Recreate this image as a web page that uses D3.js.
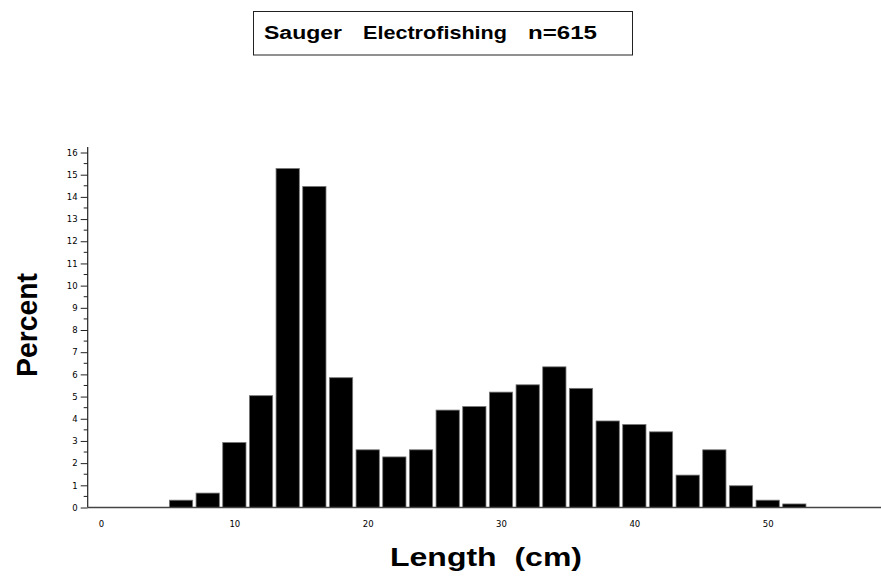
<!DOCTYPE html>
<html>
<head>
<meta charset="utf-8">
<script src="https://cdn.jsdelivr.net/npm/d3@7"></script>
<style>
  html, body { margin: 0; padding: 0; background: #fff; }
  svg { display: block; }
  text { white-space: pre; }
</style>
</head>
<body>
<svg id="chart" width="881" height="578"></svg>
<script>
// Data: length class midpoints (cm) and percent of fish
const lengthClasses = [6, 8, 10, 12, 14, 16, 18, 20, 22, 24, 26, 28, 30, 32, 34, 36, 38, 40, 42, 44, 46, 48, 50, 52];
const percentValues = [0.33, 0.65, 2.93, 5.04, 15.28, 14.47, 5.85, 2.60, 2.28, 2.60, 4.39, 4.55, 5.20, 5.53, 6.34, 5.37, 3.90, 3.74, 3.41, 1.46, 2.60, 0.98, 0.33, 0.16];
const xTickValues = [0, 10, 20, 30, 40, 50];
const yTickValues = [0, 1, 2, 3, 4, 5, 6, 7, 8, 9, 10, 11, 12, 13, 14, 15, 16];
const titleParts = ["Sauger", "Electrofishing", "n=615"];
const xTitle = "Length  (cm)";
const yTitle = "Percent";

const svg = d3.select("#chart");

const x = d3.scaleLinear().domain([-1, 58.5]).range([87.7, 881]);
const y = d3.scaleLinear().domain([0, 16]).range([507.5, 152.5]);

// Title box
svg.append("rect")
  .attr("x", 253.5).attr("y", 11.5).attr("width", 379).attr("height", 43.5)
  .attr("fill", "none").attr("stroke", "#222").attr("stroke-width", 1);

const titleFont = "Liberation Sans, Arial, sans-serif";
const titlePos = [[264, 78], [363, 144], [528, 69]];
titleParts.forEach((t, i) => {
  svg.append("text")
    .attr("x", titlePos[i][0]).attr("y", 38.5)
    .attr("font-family", titleFont).attr("font-weight", "bold")
    .attr("font-size", 18)
    .attr("textLength", titlePos[i][1]).attr("lengthAdjust", "spacingAndGlyphs")
    .text(t);
});

// Bars
svg.append("g").selectAll("rect")
  .data(lengthClasses.map((c, i) => ({c, v: percentValues[i]})))
  .join("rect")
  .attr("x", d => x(d.c - 1) + 1.7)
  .attr("width", d => x(d.c + 1) - x(d.c - 1) - 3.4)
  .attr("y", d => y(d.v))
  .attr("height", d => y(0) - y(d.v))
  .attr("fill", "#000")
  .attr("stroke", "#777")
  .attr("stroke-width", 0.8);

// Y axis
const yAxis = d3.axisLeft(y)
  .tickValues(yTickValues)
  .tickSize(7)
  .tickPadding(3)
  .tickFormat(d3.format("d"));
const gy = svg.append("g").attr("transform", `translate(${x(-1)},0)`).call(yAxis);
gy.select(".domain").remove();
gy.selectAll(".tick line").attr("stroke", "#222");
gy.selectAll(".tick text")
  .attr("font-family", "DejaVu Sans, sans-serif")
  .attr("font-size", 8.5)
  .attr("fill", "#000");
// minor ticks
const minorVals = d3.range(0.5, 16.5, 1);
gy.append("g").selectAll("line").data(minorVals).join("line")
  .attr("x1", -4).attr("x2", 0)
  .attr("y1", d => y(d)).attr("y2", d => y(d))
  .attr("stroke", "#222");
gy.append("line")
  .attr("x1", 0).attr("x2", 0)
  .attr("y1", y(0)).attr("y2", y(16.25))
  .attr("stroke", "#222").attr("stroke-width", 1.2);

// X axis
const xAxis = d3.axisBottom(x)
  .tickValues(xTickValues)
  .tickSize(0)
  .tickPadding(13)
  .tickFormat(d3.format("d"));
const gx = svg.append("g").attr("transform", `translate(0,${y(0)})`).call(xAxis);
gx.select(".domain").remove();
gx.selectAll(".tick text")
  .attr("font-family", "DejaVu Sans, sans-serif")
  .attr("font-size", 8.5)
  .attr("fill", "#000");
gx.append("line")
  .attr("x1", x(-1)).attr("x2", x(58.5))
  .attr("y1", 0).attr("y2", 0)
  .attr("stroke", "#444").attr("stroke-width", 1.5);

// Axis titles
svg.append("text")
  .attr("x", 390).attr("y", 566)
  .attr("font-family", titleFont).attr("font-weight", "bold")
  .attr("font-size", 26)
  .attr("textLength", 192).attr("lengthAdjust", "spacingAndGlyphs")
  .text(xTitle);

svg.append("text")
  .attr("transform", "translate(37,377) rotate(-90)")
  .attr("font-family", titleFont).attr("font-weight", "bold")
  .attr("font-size", 29)
  .attr("textLength", 104).attr("lengthAdjust", "spacingAndGlyphs")
  .text(yTitle);
</script>
</body>
</html>
